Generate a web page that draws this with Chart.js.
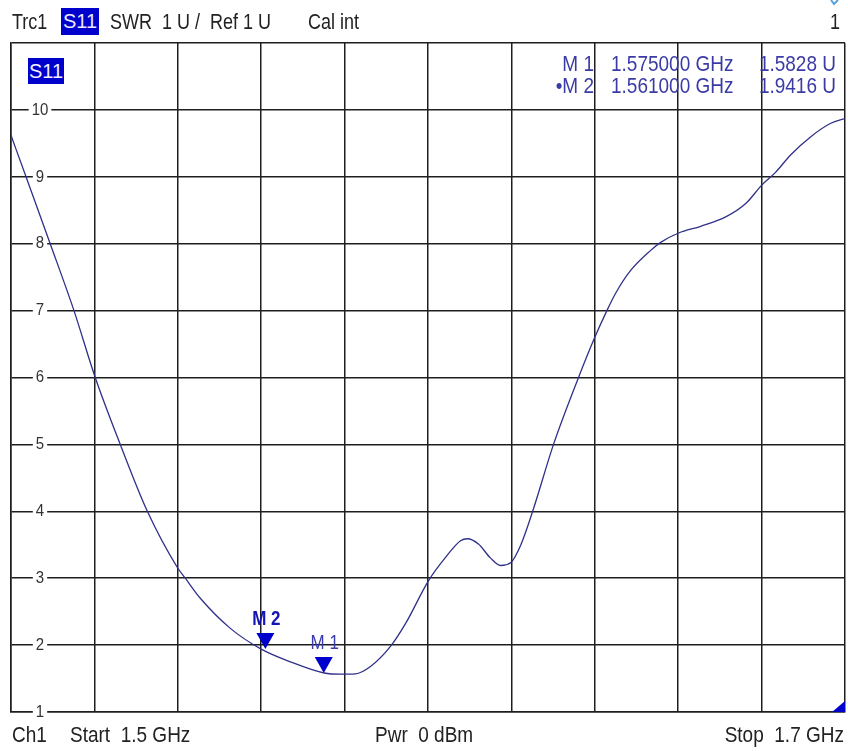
<!DOCTYPE html>
<html><head><meta charset="utf-8">
<script src="https://cdn.jsdelivr.net/npm/chart.js@4/dist/chart.umd.min.js"></script>
<style>
html,body{margin:0;padding:0;background:#fff;}
#wrap{position:relative;width:848px;height:751px;overflow:hidden;font-family:"Liberation Sans",Arial,sans-serif;color:#222;}
#c{position:absolute;left:0;top:0;}
.t{position:absolute;white-space:pre;font-size:18px;line-height:20px;height:20px;transform:scaleY(1.2);}
.r{color:#3b3ba6;font-size:19px;}
</style></head><body>
<div id="wrap">
<canvas id="c" width="848" height="751"></canvas>
<div class="t" style="left:12px;top:12px">Trc1</div>
<div class="t" style="left:61px;width:38px;text-align:center;background:#0000cc;color:#e8e8ff;height:27px;line-height:27px;top:8px;transform:none;font-size:20px">S11</div>
<div class="t" style="left:110px;top:12px">SWR  1 U /  Ref 1 U</div>
<div class="t" style="left:308px;top:12px">Cal int</div>
<div class="t" style="right:8px;top:12px">1</div>
<div class="t" style="left:28px;top:58px;width:36px;height:26px;line-height:26px;background:#0000cc;color:#f0f0ff;text-align:center;transform:none;font-size:20px">S11</div>
<div class="t r" id="m1n" style="right:254px;top:54px;text-align:right"></div>
<div class="t r" id="m1f" style="left:611px;top:54px"></div>
<div class="t r" id="m1v" style="right:12px;top:54px;text-align:right"></div>
<div class="t r" id="m2n" style="right:254px;top:76px;text-align:right"></div>
<div class="t r" id="m2f" style="left:611px;top:76px"></div>
<div class="t r" id="m2v" style="right:12px;top:76px;text-align:right"></div>
<div class="t" style="left:12px;top:725px;font-size:19px">Ch1</div>
<div class="t" style="left:70px;top:725px;font-size:19px">Start  1.5 GHz</div>
<div class="t" style="left:375px;top:725px;font-size:19px">Pwr  0 dBm</div>
<div class="t" style="right:4px;top:725px;font-size:19px">Stop  1.7 GHz</div>
</div>
<script>
// ---- data ----
const freqs = [1.5000,1.5036,1.5094,1.5151,1.5202,1.5262,1.5327,1.5399,1.5418,1.5454,1.5526,1.5600,1.5670,1.5751,1.5790,1.5826,1.5862,1.5910,1.5946,1.6001,1.6042,1.6078,1.6095,1.6121,1.6150,1.6174,1.6198,1.6222,1.6251,1.6301,1.6361,1.6400,1.6429,1.6450,1.6486,1.6534,1.6558,1.6601,1.6654,1.6714,1.6762,1.6801,1.6834,1.6870,1.6918,1.6966,1.7000];
const swr   = [9.62,9.0,8.0,7.0,6.0,5.0,4.0,3.16,3.0,2.7,2.25,1.94,1.75,1.583,1.565,1.57,1.68,1.98,2.32,2.96,3.31,3.56,3.59,3.51,3.30,3.19,3.23,3.49,4.0,5.0,6.0,6.6,7.0,7.26,7.6,7.9,8.02,8.16,8.26,8.4,8.6,8.88,9.07,9.33,9.6,9.8,9.87];
const markerNames = ['M 1','M 2'];
const markerFreqs = [1.575, 1.561];
const markerVals  = [1.5828, 1.9416];
const yTickLabels = ['1','2','3','4','5','6','7','8','9','10'];

// readout
document.getElementById('m1n').textContent = markerNames[0];
document.getElementById('m1f').textContent = markerFreqs[0].toFixed(6) + ' GHz';
document.getElementById('m1v').textContent = markerVals[0].toFixed(4) + ' U';
document.getElementById('m2n').textContent = '\u2022' + markerNames[1];
document.getElementById('m2f').textContent = markerFreqs[1].toFixed(6) + ' GHz';
document.getElementById('m2v').textContent = markerVals[1].toFixed(4) + ' U';

function sText(ctx, txt, x, y, font, color, sy, align){
  ctx.save();
  ctx.font = font; ctx.fillStyle = color;
  ctx.textAlign = align || 'center'; ctx.textBaseline = 'middle';
  ctx.translate(x, y); ctx.scale(1, sy);
  ctx.fillText(txt, 0, 0);
  ctx.restore();
}

const overlay = {
  id: 'overlay',
  beforeDatasetsDraw(chart){
    const {ctx, chartArea:a, scales:{y}} = chart;
    ctx.save();
    ctx.font = '15px "Liberation Sans", Arial';
    y.ticks.forEach(t => {
      const lbl = String(t.value);
      if (!yTickLabels.includes(lbl)) return;
      const py = y.getPixelForValue(t.value);
      const w = ctx.measureText(lbl).width;
      const cx = a.left + 29;
      ctx.fillStyle = '#fff';
      ctx.fillRect(cx - w/2 - 3, py - 3, w + 6, 6);
      sText(ctx, lbl, cx, py, '15px "Liberation Sans", Arial', '#333', 1.15);
    });
    ctx.restore();
  },
  afterDatasetsDraw(chart){
    const {ctx, chartArea:a, scales:{x, y}} = chart;
    ctx.save();
    markerFreqs.forEach((f, i) => {
      const px = x.getPixelForValue(f);
      const py = y.getPixelForValue(markerVals[i]);
      ctx.fillStyle = '#0000cc';
      ctx.beginPath();
      ctx.moveTo(px, py);
      ctx.lineTo(px - 9, py - 16);
      ctx.lineTo(px + 9, py - 16);
      ctx.closePath();
      ctx.fill();
      const active = i === 1;
      sText(ctx, markerNames[i], px + 1, py - 29,
        (active ? 'bold ' : '') + '17px "Liberation Sans", Arial',
        active ? '#1414b4' : '#3b3bb0', 1.15);
    });
    // corner indicator
    ctx.fillStyle = '#0000cc';
    ctx.beginPath();
    ctx.moveTo(a.right, a.bottom - 11);
    ctx.lineTo(a.right, a.bottom);
    ctx.lineTo(a.right - 13, a.bottom);
    ctx.closePath(); ctx.fill();
    // small top-right icon
    ctx.strokeStyle = '#5aa0d8'; ctx.lineWidth = 2;
    ctx.beginPath(); ctx.moveTo(831, 0); ctx.lineTo(834, 4); ctx.lineTo(838, 0); ctx.stroke();
    ctx.restore();
  }
};

new Chart(document.getElementById('c'), {
  type: 'scatter',
  data: {
    datasets: [{
      data: freqs.map((f, i) => ({x: f, y: swr[i]})),
      showLine: true,
      borderColor: '#30308a',
      borderWidth: 1.3,
      pointRadius: 0,
      cubicInterpolationMode: 'monotone',
      fill: false
    }]
  },
  options: {
    responsive: false,
    animation: false,
    events: [],
    layout: {padding: {left: 11, right: 3, top: 43, bottom: 39}},
    plugins: {legend: {display: false}, tooltip: {enabled: false}},
    scales: {
      x: {
        type: 'linear', min: 1.5, max: 1.7,
        ticks: {display: false, stepSize: 0.02},
        grid: {color: '#1e1e1e', lineWidth: 1.5, drawTicks: false},
        border: {color: '#1e1e1e', width: 1.5}
      },
      y: {
        type: 'linear', min: 1, max: 11,
        ticks: {display: false, stepSize: 1},
        grid: {color: '#1e1e1e', lineWidth: 1.5, drawTicks: false},
        border: {color: '#1e1e1e', width: 1.5}
      }
    }
  },
  plugins: [overlay]
});
</script>
</body></html>
